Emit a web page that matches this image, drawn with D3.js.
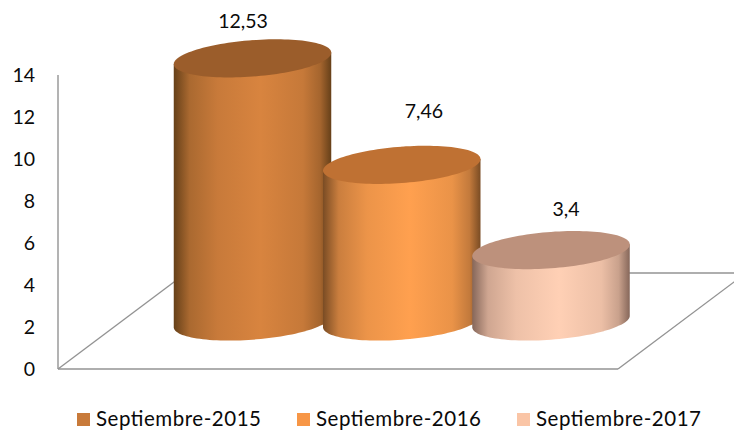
<!DOCTYPE html>
<html><head><meta charset="utf-8">
<script src="https://cdn.jsdelivr.net/npm/d3@7"></script>
<style>html,body{margin:0;padding:0;background:#fff}svg{display:block}text{font-family:Lato,"Open Sans",sans-serif;fill:#0a0a0a}</style>
</head><body><script>
const categories = ["Septiembre-2015","Septiembre-2016","Septiembre-2017"];
const values = [12.53,7.46,3.4];
const valueLabels = ["12,53","7,46","3,4"];
const yTicks = [0,2,4,6,8,10,12,14];
const midColors = ["#d8843f","#ffa04f","#ffd0b5"];
const edgeColors = ["#664019","#7a4c24","#86675a"];
const topColors = ["#9b5d2b","#bf7133","#bd917c"];
const swatchColors = ["#c87a3a","#f79646","#fac5a6"];
const labelCenters = [243,424,566];
const labelMiddles = [21,111,209];
const legendX = [77,297,517];

const W=734,H=430;
const svg=d3.select("body").append("svg").attr("width",W).attr("height",H);
const y=d3.scaleLinear().domain([0,14]).range([369,75]);
const x=d3.scalePoint().domain(categories).range([252.5,551]);
const a=78.75,b=18.2,s=5.75,baseY=321.5;
const defs=svg.append("defs");
categories.forEach((c,i)=>{
  const mix=d3.interpolateRgb(edgeColors[i],midColors[i]);
  const g=defs.append("linearGradient").attr("id","g"+i).attr("x1",0).attr("x2",1).attr("y1",0).attr("y2",0);
  [[0,edgeColors[i]],[0.1,mix(0.6)],[0.28,mix(0.86)],[0.55,midColors[i]],[0.82,mix(0.84)],[0.93,mix(0.55)],[1,edgeColors[i]]]
    .forEach(([o,col])=>g.append("stop").attr("offset",o).attr("stop-color",col));
});

// walls and floor
const wall="#939393";
const lines=[[58,y(14),58,y(0)],[58,y(0),618,y(0)],[618,y(0),746,273],[58,y(0),186,273],[186,273,746,273]];
svg.append("g").selectAll("line").data(lines).join("line")
  .attr("x1",d=>d[0]).attr("y1",d=>d[1]).attr("x2",d=>d[2]).attr("y2",d=>d[3])
  .attr("stroke",wall).attr("stroke-width",1.4);

// y axis labels
const axis=d3.axisLeft(y).tickValues(yTicks).tickSize(0).tickPadding(23).tickFormat(d3.format("d"));
const ax=svg.append("g").attr("transform","translate(58,0.7)").call(axis);
ax.select(".domain").remove();
ax.selectAll("text").attr("font-size",19.5).style("font-family",'Lato,"Open Sans",sans-serif').style("fill","#0a0a0a");

// cylinders
const pt=(cx,cy,t)=>[cx+a*Math.cos(t),cy-s*Math.cos(t)+b*Math.sin(t)];
const line=d3.line();
const ts=d3.range(0,181,3).map(d=>d*Math.PI/180);
const all=d3.range(0,360,3).map(d=>d*Math.PI/180);
const h=v=>y(0)-y(v);
categories.forEach((c,i)=>{
  const cx=x(c), topY=baseY-h(values[i]);
  const lower=ts.map(t=>pt(cx,baseY,t));
  svg.append("path").attr("d",line(lower.concat([pt(cx,topY,Math.PI),pt(cx,topY,-Math.PI/2),pt(cx,topY,0)]))+"Z")
    .attr("fill",`url(#g${i})`);
  svg.append("path").attr("d",line(all.map(t=>pt(cx,topY,t)))+"Z").attr("fill",topColors[i]);
  svg.append("text").attr("x",labelCenters[i]).attr("y",labelMiddles[i]).attr("dy","0.35em")
    .attr("text-anchor","middle").attr("font-size",19.5).text(valueLabels[i]);
});

// legend
const lg=svg.append("g").selectAll("g").data(categories).join("g").attr("transform",(d,i)=>`translate(${legendX[i]},413)`);
lg.append("rect").attr("width",13).attr("height",13).attr("fill",(d,i)=>swatchColors[i]);
lg.append("text").attr("x",19).attr("y",13).attr("font-size",20.5).attr("textLength",165).attr("lengthAdjust","spacing").text(d=>d);
</script></body></html>
